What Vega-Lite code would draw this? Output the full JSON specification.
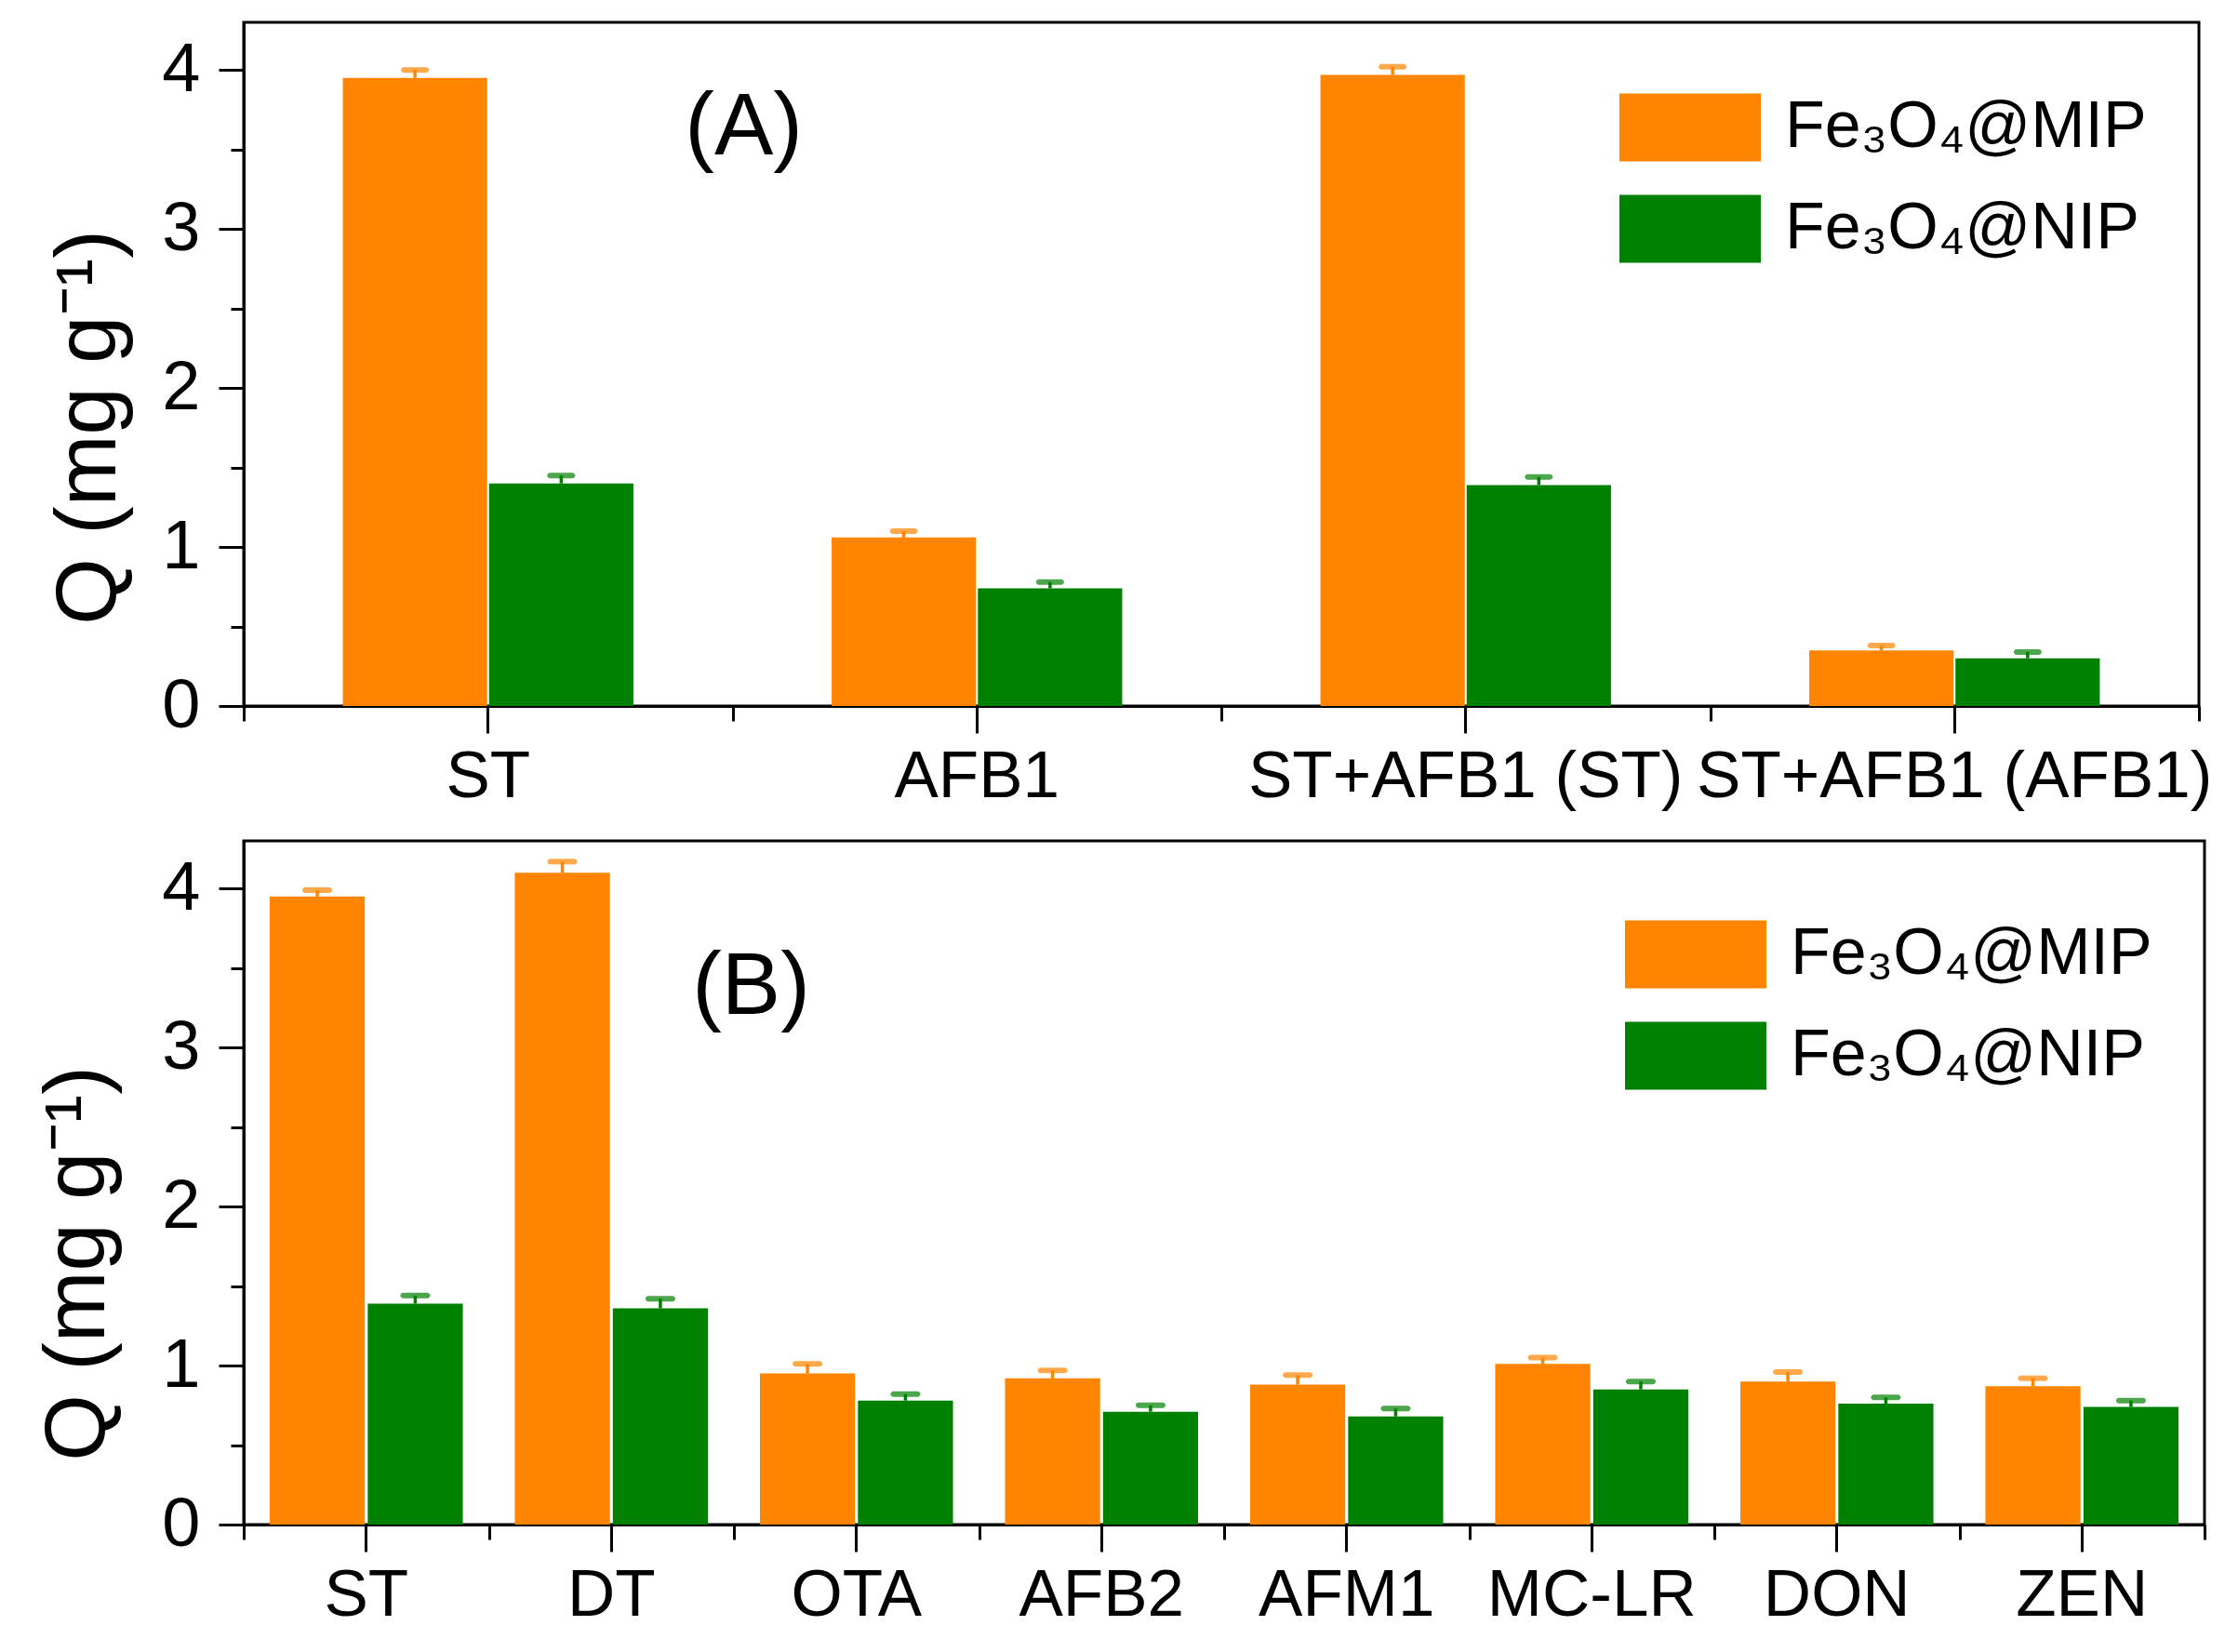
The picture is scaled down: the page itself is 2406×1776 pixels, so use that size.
{
  "$schema": "https://vega.github.io/schema/vega-lite/v6.json",
  "background": "white",
  "padding": {"left": 36, "top": 22, "right": 0, "bottom": 0},
  "config": {
    "font": "Liberation Sans",
    "view": {"stroke": "black", "strokeWidth": 3},
    "axis": {"domainColor": "black", "domainWidth": 3, "tickColor": "black", "tickWidth": 3, "labelColor": "black", "titleColor": "black", "titleFontWeight": "normal", "grid": false, "labelFont": "Liberation Sans", "titleFont": "Liberation Sans", "labelLimit": 0}
  },
  "spacing": 30,
  "resolve": {"scale": {"color": "independent", "x": "independent", "y": "independent", "xOffset": "independent"}, "legend": {"color": "independent"}},
  "vconcat": [
    {
      "width": 2102,
      "height": 735,
      "data": {"values": [
        {"cat": "ST", "series": "Fe₃O₄@MIP", "Q": 3.95, "hi": 4.00},
        {"cat": "ST", "series": "Fe₃O₄@NIP", "Q": 1.40, "hi": 1.45},
        {"cat": "AFB1", "series": "Fe₃O₄@MIP", "Q": 1.06, "hi": 1.10},
        {"cat": "AFB1", "series": "Fe₃O₄@NIP", "Q": 0.74, "hi": 0.78},
        {"cat": "ST+AFB1 (ST)", "series": "Fe₃O₄@MIP", "Q": 3.97, "hi": 4.02},
        {"cat": "ST+AFB1 (ST)", "series": "Fe₃O₄@NIP", "Q": 1.39, "hi": 1.44},
        {"cat": "ST+AFB1 (AFB1)", "series": "Fe₃O₄@MIP", "Q": 0.35, "hi": 0.38},
        {"cat": "ST+AFB1 (AFB1)", "series": "Fe₃O₄@NIP", "Q": 0.30, "hi": 0.34}
      ]},
      "resolve": {"axis": {"x": "independent", "y": "independent"}},
      "layer": [
        {
          "mark": {"type": "bar"},
          "encoding": {
            "x": {"field": "cat", "type": "nominal", "sort": null, "scale": {"paddingInner": 0, "paddingOuter": 0},
                  "axis": {"title": null, "orient": "bottom", "labelAngle": 0, "labelFontSize": 71, "tickSize": 29, "labelPadding": 12, "labelLimit": 0}},
            "xOffset": {"field": "series", "type": "nominal", "sort": null, "scale": {"paddingInner": 0.013, "paddingOuter": 0.678}},
            "y": {"field": "Q", "type": "quantitative", "scale": {"domain": [0, 4.3], "nice": false},
                  "axis": {"title": "Q (mg g⁻¹)", "orient": "left", "values": [0, 1, 2, 3, 4], "tickSize": 27, "labelFontSize": 74, "labelPadding": 20, "titleFontSize": 92, "titlePadding": 31, "titleY": 435}},
            "color": {"field": "series", "type": "nominal", "sort": null, "scale": {"range": ["#FF8400", "#008000"]},
                      "legend": {"title": null, "orient": "none", "legendX": 1517, "legendY": 75, "symbolType": "M-2,-0.96H2V0.96H-2Z", "symbolSize": 5776, "symbolStrokeWidth": 0, "symbolOpacity": 1, "labelFontSize": 70, "labelOffset": 64, "labelLimit": 1000, "labelColor": "black", "rowPadding": 34, "padding": 0}}
          }
        },
        {
          "mark": {"type": "rule", "strokeWidth": 3.5},
          "encoding": {
            "x": {"field": "cat", "type": "nominal", "sort": null,
                  "axis": {"title": null, "orient": "bottom", "labels": false, "domain": false, "tickBand": "extent", "tickSize": 16}},
            "xOffset": {"field": "series", "type": "nominal", "sort": null},
            "y": {"field": "Q", "type": "quantitative",
                  "axis": {"title": null, "orient": "left", "labels": false, "domain": false, "values": [0.5, 1.5, 2.5, 3.5], "tickSize": 14}},
            "y2": {"field": "hi"},
            "color": {"field": "series", "type": "nominal", "sort": null, "legend": null}
          }
        },
        {
          "mark": {"type": "tick", "thickness": 6, "size": 30, "cornerRadius": 3},
          "encoding": {
            "x": {"field": "cat", "type": "nominal", "sort": null, "axis": null},
            "xOffset": {"field": "series", "type": "nominal", "sort": null},
            "y": {"field": "hi", "type": "quantitative", "axis": null},
            "color": {"field": "series", "type": "nominal", "sort": null, "legend": null}
          }
        },
        {
          "data": {"values": [{"t": "(A)", "cat": "ST", "Q": 3.64}]},
          "mark": {"type": "text", "fontSize": 95, "baseline": "middle", "align": "center", "color": "black"},
          "encoding": {
            "x": {"field": "cat", "type": "nominal", "sort": null, "bandPosition": 1.023, "axis": null},
            "y": {"field": "Q", "type": "quantitative", "axis": null},
            "text": {"field": "t"}
          }
        }
      ]
    },
    {
      "width": 2108,
      "height": 735,
      "data": {"values": [
        {"cat": "ST", "series": "Fe₃O₄@MIP", "Q": 3.95, "hi": 3.99},
        {"cat": "ST", "series": "Fe₃O₄@NIP", "Q": 1.39, "hi": 1.44},
        {"cat": "DT", "series": "Fe₃O₄@MIP", "Q": 4.10, "hi": 4.17},
        {"cat": "DT", "series": "Fe₃O₄@NIP", "Q": 1.36, "hi": 1.42},
        {"cat": "OTA", "series": "Fe₃O₄@MIP", "Q": 0.95, "hi": 1.01},
        {"cat": "OTA", "series": "Fe₃O₄@NIP", "Q": 0.78, "hi": 0.82},
        {"cat": "AFB2", "series": "Fe₃O₄@MIP", "Q": 0.92, "hi": 0.97},
        {"cat": "AFB2", "series": "Fe₃O₄@NIP", "Q": 0.71, "hi": 0.75},
        {"cat": "AFM1", "series": "Fe₃O₄@MIP", "Q": 0.88, "hi": 0.94},
        {"cat": "AFM1", "series": "Fe₃O₄@NIP", "Q": 0.68, "hi": 0.73},
        {"cat": "MC-LR", "series": "Fe₃O₄@MIP", "Q": 1.01, "hi": 1.05},
        {"cat": "MC-LR", "series": "Fe₃O₄@NIP", "Q": 0.85, "hi": 0.90},
        {"cat": "DON", "series": "Fe₃O₄@MIP", "Q": 0.90, "hi": 0.96},
        {"cat": "DON", "series": "Fe₃O₄@NIP", "Q": 0.76, "hi": 0.80},
        {"cat": "ZEN", "series": "Fe₃O₄@MIP", "Q": 0.87, "hi": 0.92},
        {"cat": "ZEN", "series": "Fe₃O₄@NIP", "Q": 0.74, "hi": 0.78}
      ]},
      "resolve": {"axis": {"x": "independent", "y": "independent"}},
      "layer": [
        {
          "mark": {"type": "bar"},
          "encoding": {
            "x": {"field": "cat", "type": "nominal", "sort": null, "scale": {"paddingInner": 0, "paddingOuter": 0},
                  "axis": {"title": null, "orient": "bottom", "labelAngle": 0, "labelFontSize": 71, "tickSize": 29, "labelPadding": 12, "labelLimit": 0}},
            "xOffset": {"field": "series", "type": "nominal", "sort": null, "scale": {"paddingInner": 0.03, "paddingOuter": 0.2655}},
            "y": {"field": "Q", "type": "quantitative", "scale": {"domain": [0, 4.3], "nice": false},
                  "axis": {"title": "Q (mg g⁻¹)", "orient": "left", "values": [0, 1, 2, 3, 4], "tickSize": 27, "labelFontSize": 74, "labelPadding": 20, "titleFontSize": 92, "titlePadding": 43, "titleY": 454}},
            "color": {"field": "series", "type": "nominal", "sort": null, "scale": {"range": ["#FF8400", "#008000"]},
                      "legend": {"title": null, "orient": "none", "legendX": 1523, "legendY": 84, "symbolType": "M-2,-0.96H2V0.96H-2Z", "symbolSize": 5776, "symbolStrokeWidth": 0, "symbolOpacity": 1, "labelFontSize": 70, "labelOffset": 64, "labelLimit": 1000, "labelColor": "black", "rowPadding": 34, "padding": 0}}
          }
        },
        {
          "mark": {"type": "rule", "strokeWidth": 3.5},
          "encoding": {
            "x": {"field": "cat", "type": "nominal", "sort": null,
                  "axis": {"title": null, "orient": "bottom", "labels": false, "domain": false, "tickBand": "extent", "tickSize": 16}},
            "xOffset": {"field": "series", "type": "nominal", "sort": null},
            "y": {"field": "Q", "type": "quantitative",
                  "axis": {"title": null, "orient": "left", "labels": false, "domain": false, "values": [0.5, 1.5, 2.5, 3.5], "tickSize": 14}},
            "y2": {"field": "hi"},
            "color": {"field": "series", "type": "nominal", "sort": null, "legend": null}
          }
        },
        {
          "mark": {"type": "tick", "thickness": 6, "size": 32, "cornerRadius": 3},
          "encoding": {
            "x": {"field": "cat", "type": "nominal", "sort": null, "axis": null},
            "xOffset": {"field": "series", "type": "nominal", "sort": null},
            "y": {"field": "hi", "type": "quantitative", "axis": null},
            "color": {"field": "series", "type": "nominal", "sort": null, "legend": null}
          }
        },
        {
          "data": {"values": [{"t": "(B)", "cat": "DT", "Q": 3.38}]},
          "mark": {"type": "text", "fontSize": 95, "baseline": "middle", "align": "center", "color": "black"},
          "encoding": {
            "x": {"field": "cat", "type": "nominal", "sort": null, "bandPosition": 1.07, "axis": null},
            "y": {"field": "Q", "type": "quantitative", "axis": null},
            "text": {"field": "t"}
          }
        }
      ]
    }
  ]
}
